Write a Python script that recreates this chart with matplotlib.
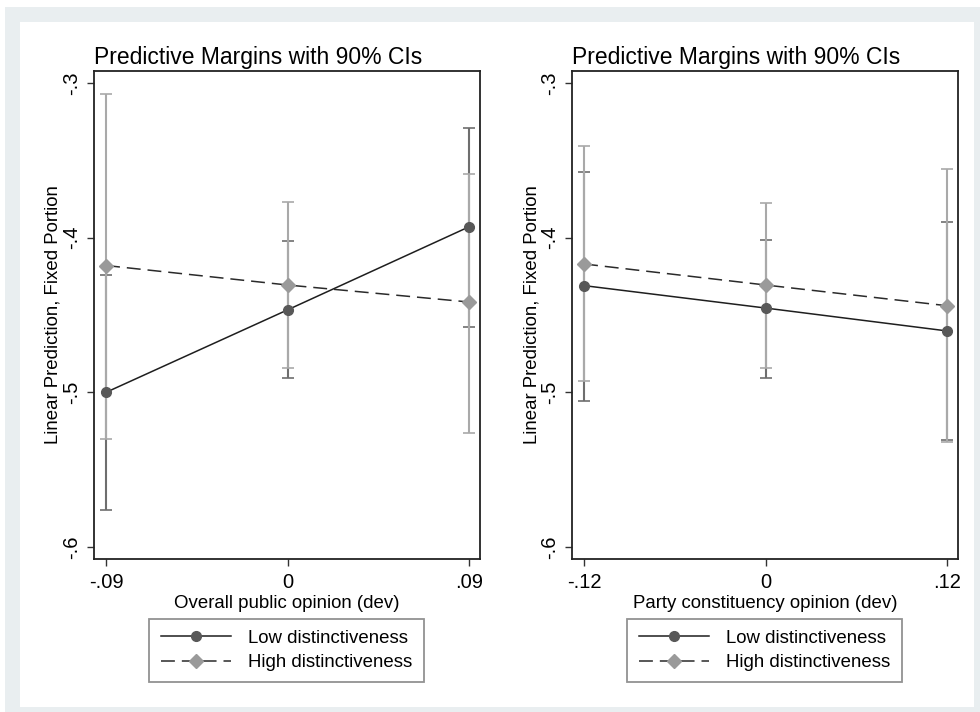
import matplotlib
matplotlib.use('Agg')
import matplotlib.pyplot as plt
from matplotlib.patches import Rectangle

plt.rcParams['font.family'] = ['Liberation Sans', 'DejaVu Sans']
plt.rcParams['lines.scale_dashes'] = False

# panel 1: overall public opinion
x1 = [-0.09, 0.0, 0.09]
x1_ticks = ['-.09', '0', '.09']
low1 = [-0.500, -0.4467, -0.393]
low1_lo = [-0.576, -0.491, -0.458]
low1_hi = [-0.424, -0.402, -0.329]
high1 = [-0.418, -0.4306, -0.4416]
high1_lo = [-0.530, -0.484, -0.526]
high1_hi = [-0.307, -0.377, -0.359]

# panel 2: party constituency opinion
x2 = [-0.12, 0.0, 0.12]
x2_ticks = ['-.12', '0', '.12']
low2 = [-0.431, -0.4455, -0.4603]
low2_lo = [-0.5055, -0.4907, -0.531]
low2_hi = [-0.3575, -0.4015, -0.3898]
high2 = [-0.417, -0.4306, -0.444]
high2_lo = [-0.493, -0.484, -0.532]
high2_hi = [-0.341, -0.3775, -0.3556]

y_ticks = [-0.6, -0.5, -0.4, -0.3]
y_labels = ['-.6', '-.5', '-.4', '-.3']

W, H = 980, 712
fig = plt.figure(figsize=(W / 100, H / 100), dpi=100)
fig.patch.set_facecolor('white')
# stata-like outer frame
fig.patches.append(Rectangle((5 / W, 0), 1, 1 - 7 / H, transform=fig.transFigure,
                             facecolor='#e9eef0', edgecolor='none', zorder=-2))
fig.patches.append(Rectangle((20 / W, 5 / H), (974 - 20) / W, (707 - 22) / H,
                             transform=fig.transFigure, facecolor='white',
                             edgecolor='none', zorder=-1))


def panel(left_px, x, xt, low, low_lo, low_hi, high, high_lo, high_hi, xlabel, xlim):
    ax = fig.add_axes([left_px / W, 1 - 559 / H, 386 / W, 488 / H])
    ax.set_facecolor('white')
    lerr = [[l - lo for l, lo in zip(low, low_lo)], [hi - l for l, hi in zip(low, low_hi)]]
    herr = [[h - lo for h, lo in zip(high, high_lo)], [hi - h for h, hi in zip(high, high_hi)]]
    ax.errorbar(x, low, yerr=lerr, fmt='none', ecolor='#6e6e6e', elinewidth=1.5,
                capsize=4, capthick=1.2, zorder=2)
    ax.errorbar(x, high, yerr=herr, fmt='none', ecolor='#a9a9a9', elinewidth=1.5,
                capsize=4, capthick=1.2, zorder=2)
    ax.plot(x, low, color='#1e1e1e', lw=1.1, marker='o', markersize=7,
            markerfacecolor='#585858', markeredgecolor='#585858',
            label='Low distinctiveness', zorder=3)
    ax.plot(x, high, color='#2a2a2a', lw=1.1, dashes=(10, 5), marker='D', markersize=7,
            markerfacecolor='#9a9a9a', markeredgecolor='#9a9a9a',
            label='High distinctiveness', zorder=3)
    ax.set_xlim(xlim)
    ax.set_ylim(-0.6078, -0.2922)
    ax.set_xticks(x)
    ax.set_xticklabels(xt, fontsize=14.5)
    ax.set_yticks(y_ticks)
    ax.set_yticklabels(y_labels, fontsize=14.5, rotation=90, va='center')
    ax.tick_params(direction='out', length=5, width=1, color='#333333', pad=4)
    ax.tick_params(axis='x', pad=5)
    for s in ax.spines.values():
        s.set_linewidth(1.3)
        s.set_color('#222222')
    ax.set_title('Predictive Margins with 90% CIs', loc='left', fontsize=16.5, pad=5)
    ax.set_xlabel(xlabel, fontsize=13.4, labelpad=2)
    ax.set_ylabel('Linear Prediction, Fixed Portion', fontsize=13.4)
    ax.yaxis.set_label_coords(-(94 - 62) / 386, 0.5)
    cx = (left_px + 192.5) / W
    leg = ax.legend(loc='center', bbox_to_anchor=(cx, 1 - 650.5 / H),
                    bbox_transform=fig.transFigure, fontsize=13.4, frameon=True,
                    fancybox=False, edgecolor='#777777', handlelength=3.8,
                    handletextpad=0.9, borderpad=0.6, labelspacing=0.4,
                    borderaxespad=0)
    leg.get_frame().set_linewidth(1.3)
    return ax


panel(94, x1, x1_ticks, low1, low1_lo, low1_hi, high1, high1_lo, high1_hi,
      'Overall public opinion (dev)', (-0.096, 0.0955))
panel(572, x2, x2_ticks, low2, low2_lo, low2_hi, high2, high2_lo, high2_hi,
      'Party constituency opinion (dev)', (-0.128, 0.1273))

fig.savefig('out.png', dpi=100)
